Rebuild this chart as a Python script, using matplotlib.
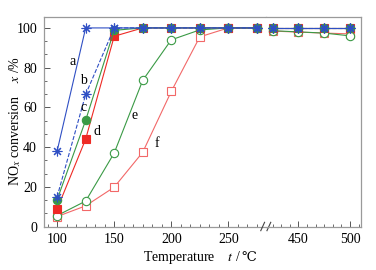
import matplotlib
matplotlib.use("Agg")
import matplotlib.pyplot as plt
from matplotlib.ticker import MultipleLocator
import numpy as np

plt.rcParams['font.family'] = ['Liberation Serif', 'DejaVu Serif']
plt.rcParams['mathtext.fontset'] = 'stix'
plt.rcParams['font.size'] = 10

# temperatures, 300-400 hidden by the axis break
temp_low = [100, 125, 150, 175, 200, 225, 250, 275]
temp_high = [425, 450, 475, 500]

conv_a = [38, 100, 100, 100, 100, 100, 100, 100]
conv_b = [15, 66.5, 100, 100, 100, 100, 100, 100]
conv_c = [13.5, 53.5, 98.8, 100, 100, 100, 100, 100]
conv_d = [8.8, 44, 95.8, 100, 100, 100, 100, 100]
conv_e = [5.5, 12.8, 37, 73.6, 94, 99, 100, 100]
conv_f = [5, 10.4, 19.8, 37.4, 68, 95.5, 100, 100]

conv_a_hi = [100, 100, 100, 100]
conv_b_hi = [100, 100, 100, 100]
conv_c_hi = [100, 100, 100, 100]
conv_d_hi = [100, 100, 100, 100]
conv_e_hi = [98.6, 98, 97.4, 96]
conv_f_hi = [98.4, 97.9, 97.4, 97]

curve_labels = ["a", "b", "c", "d", "e", "f"]
label_pos = [(114, 83), (123.5, 73.5), (123.5, 60), (134.5, 48), (168, 56), (187, 42)]

blue = '#2f4fc4'
green = '#3a9a45'
red = '#ee2a24'
pink = '#f26868'

series = [
    # low, high, colour, marker, filled, linestyle, ms
    (conv_f, conv_f_hi, pink, 's', False, '-', 5.5),
    (conv_e, conv_e_hi, green, 'o', False, '-', 6),
    (conv_d, conv_d_hi, red, 's', True, '-', 6),
    (conv_c, conv_c_hi, green, 'o', True, '-', 6),
    (conv_b, conv_b_hi, blue, (8, 2, 0), True, '--', 7),
    (conv_a, conv_a_hi, blue, (8, 2, 0), True, '-', 7),
]

fig = plt.figure(figsize=(3.76, 2.70), dpi=100)
bot = 1 - 226.5 / 270
hgt = (226.5 - 17) / 270
ax1 = fig.add_axes([44 / 376, bot, (266 - 44) / 376, hgt])
ax2 = fig.add_axes([266 / 376, bot, (361 - 266) / 376, hgt], sharey=ax1)

for lo, hi, col, mk, filled, ls, ms in series:
    kw = dict(color=col, marker=mk, ms=ms, lw=0.8, ls=ls, mew=0.8,
              mfc=col if filled else 'white', mec=col)
    ax1.plot(temp_low, lo, **kw)
    ax2.plot(temp_high, hi, **kw)

ax1.set_xlim(88.5, 283)
ax2.set_xlim(418.5, 510.7)
ax1.set_ylim(0, 105.5)

ax1.set_xticks([100, 150, 200, 250])
ax1.xaxis.set_minor_locator(MultipleLocator(50 / 6))
ax2.set_xticks([450, 500])
ax2.xaxis.set_minor_locator(MultipleLocator(50 / 6))
ax1.set_yticks([0, 20, 40, 60, 80, 100])
ax1.yaxis.set_minor_locator(MultipleLocator(20 / 3))

frame = '#9a9a9a'
for ax in (ax1, ax2):
    for s in ax.spines.values():
        s.set_color(frame)
        s.set_linewidth(0.9)
    ax.tick_params(which='both', direction='in', top=False, right=False,
                   color='#555555', labelsize=10, pad=5)
    ax.tick_params(which='major', length=4, width=0.7)
    ax.tick_params(which='minor', length=2.5, width=0.6)

ax1.spines['right'].set_visible(False)
ax2.spines['left'].set_visible(False)
ax2.tick_params(axis='y', which='both', left=False, labelleft=False)

# break marks on the bottom axis
for dx in (-0.035, 0.03):
    ax2.plot([dx - 0.02, dx + 0.02], [-0.02, 0.02], transform=ax2.transAxes,
             color='#444444', lw=0.8, clip_on=False)

for lab, (lx, ly) in zip(curve_labels, label_pos):
    ax1.text(lx, ly, lab, ha='center', va='center', fontsize=10)

fig.text(15 / 376, 1 - 121 / 270, "NO$_x$ conversion    $x$ /%", rotation=90,
         ha='center', va='center', fontsize=10)

# x label: mathtext part, then the degree sign from DejaVu Serif
xl = fig.text(143 / 376, 1 - 261 / 270, "Temperature    $t$ /", ha='left', va='baseline',
              fontsize=10)
fig.canvas.draw()
bb = xl.get_window_extent(renderer=fig.canvas.get_renderer())
fig.text(bb.x1 / fig.bbox.width, 1 - 261 / 270, "℃", ha='left', va='baseline',
         fontsize=9.5, family='DejaVu Serif')

fig.savefig("out.png", dpi=100)
